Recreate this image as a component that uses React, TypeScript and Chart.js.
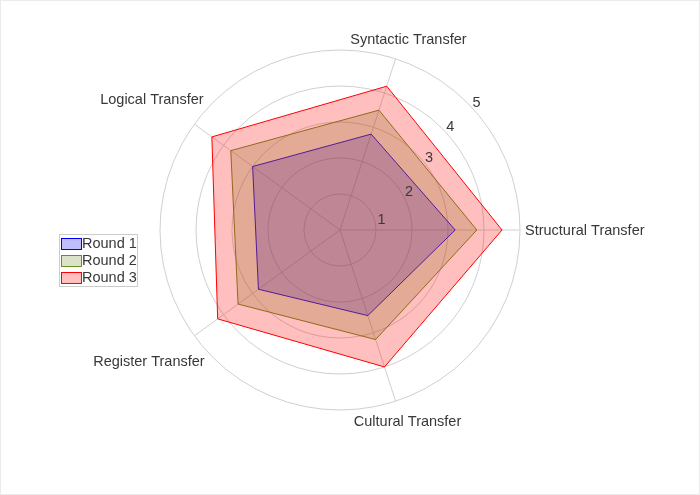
import React, { useEffect, useRef } from "react";
import { Chart, registerables } from "chart.js";

Chart.register(...registerables);

// Categories in Chart.js drawing order (clockwise, starting at the right)
const CATEGORIES = [
  "Structural Transfer",
  "Cultural Transfer",
  "Register Transfer",
  "Logical Transfer",
  "Syntactic Transfer",
];
const ROUND_1 = [3.2, 2.5, 2.8, 3.0, 2.8];
const ROUND_2 = [3.8, 3.2, 3.5, 3.75, 3.5];
const ROUND_3 = [4.5, 4.0, 4.2, 4.4, 4.2];
const SERIES_NAMES = ["Round 1", "Round 2", "Round 3"];
const TICK_VALUES = [1, 2, 3, 4, 5];
const TICK_LABELS = ["1", "2", "3", "4", "5"];
const R_MIN = 0;
const R_MAX = 5;

// Styling
const FONT = '14.5px "Liberation Sans", Arial, sans-serif';
const TEXT_COLOR = "#383838";
const GRID_COLOR = "#d0d0d0";
const LINE_COLORS = ["rgb(0,0,255)", "rgb(107,142,35)", "rgb(255,0,0)"];
const FILL_COLORS = [
  "rgba(0,0,255,0.25)",
  "rgba(107,142,35,0.25)",
  "rgba(255,0,0,0.25)",
];
const TICK_LABEL_ANGLES = [15, 29, 39, 43, 43];

const framePlugin = {
  id: "frame",
  beforeDraw(chart: any) {
    const { ctx, width, height } = chart;
    ctx.save();
    ctx.fillStyle = "#ffffff";
    ctx.fillRect(0, 0, width, height);
    ctx.strokeStyle = "#ebebeb";
    ctx.lineWidth = 1;
    ctx.strokeRect(0.5, 0.5, width - 1, height - 1);
    ctx.restore();
  },
};

const labelsPlugin = {
  id: "radarLabels",
  afterDatasetsDraw(chart: any) {
    const scale = chart.scales.r;
    const { ctx } = chart;
    const xc = scale.xCenter;
    const yc = scale.yCenter;
    const R = scale.drawingArea;
    ctx.save();
    ctx.font = FONT;
    ctx.fillStyle = TEXT_COLOR;
    ctx.textAlign = "center";
    ctx.textBaseline = "middle";
    // category labels, boxed outside the outer ring
    chart.data.labels.forEach((label: string, i: number) => {
      const a = scale.getIndexAngle(i) - Math.PI / 2;
      const c = Math.cos(a);
      const s = Math.abs(Math.sin(a)) < 0.01 ? 0 : Math.sin(a);
      const w = ctx.measureText(label).width;
      const x = xc + (R + 5) * c + Math.sign(c) * (w / 2) * Math.pow(Math.abs(c), 1.4);
      const y = yc + (R + 5) * s + Math.sign(s) * (14 + 12 * c * c);
      ctx.fillText(label, x, y + 1);
    });
    // radial tick labels
    TICK_VALUES.forEach((v, i) => {
      const a = (-TICK_LABEL_ANGLES[i] * Math.PI) / 180;
      const d = scale.getDistanceFromCenterForValue(v) + 8;
      ctx.fillText(TICK_LABELS[i], xc + d * Math.cos(a) - 1, yc + d * Math.sin(a) + 1);
    });
    ctx.restore();
  },
};

const legendPlugin = {
  id: "boxLegend",
  afterDraw(chart: any) {
    const { ctx } = chart;
    const x = 59;
    const y = 234;
    const w = 78;
    const rowH = 17;
    const n = chart.data.datasets.length;
    const h = n * rowH + 1;
    ctx.save();
    ctx.fillStyle = "#ffffff";
    ctx.fillRect(x, y, w, h);
    ctx.strokeStyle = "#cccccc";
    ctx.lineWidth = 1;
    ctx.strokeRect(x + 0.5, y + 0.5, w, h);
    ctx.font = FONT;
    ctx.textAlign = "left";
    ctx.textBaseline = "middle";
    chart.data.datasets.forEach((ds: any, i: number) => {
      const cy = y + 9 + i * rowH;
      ctx.fillStyle = ds.backgroundColor;
      ctx.fillRect(x + 2, cy - 5, 20, 11);
      ctx.strokeStyle = ds.borderColor;
      ctx.strokeRect(x + 2.5, cy - 4.5, 20, 11);
      ctx.fillStyle = TEXT_COLOR;
      ctx.fillText(ds.label, x + 23, cy + 1);
    });
    ctx.restore();
  },
};

export default function App() {
  const ref = useRef<HTMLCanvasElement>(null);
  useEffect(() => {
    const series = [ROUND_1, ROUND_2, ROUND_3];
    const chart = new Chart(ref.current as HTMLCanvasElement, {
      type: "radar",
      data: {
        labels: CATEGORIES,
        datasets: series.map((data, i) => ({
          label: SERIES_NAMES[i],
          data,
          borderColor: LINE_COLORS[i],
          backgroundColor: FILL_COLORS[i],
          borderWidth: 1,
          fill: true,
          pointRadius: 0,
          order: series.length - i,
        })),
      },
      options: {
        responsive: false,
        animation: false,
        layout: { padding: { left: 160, top: 50, right: 180, bottom: 85 } },
        plugins: {
          legend: { display: false },
          tooltip: { enabled: false },
        },
        elements: { line: { tension: 0 } },
        scales: {
          r: {
            min: R_MIN,
            max: R_MAX,
            startAngle: 90,
            ticks: { display: false, stepSize: 1 },
            pointLabels: { display: false },
            grid: { circular: true, color: GRID_COLOR, lineWidth: 1 },
            angleLines: { color: GRID_COLOR, lineWidth: 1 },
          },
        },
      },
      plugins: [framePlugin, labelsPlugin, legendPlugin],
    });
    return () => chart.destroy();
  }, []);
  return (
    <div style={{ position: "fixed", left: 0, top: 0, width: 700, height: 495 }}>
      <canvas ref={ref} width={700} height={495} style={{ display: "block" }} />
    </div>
  );
}
